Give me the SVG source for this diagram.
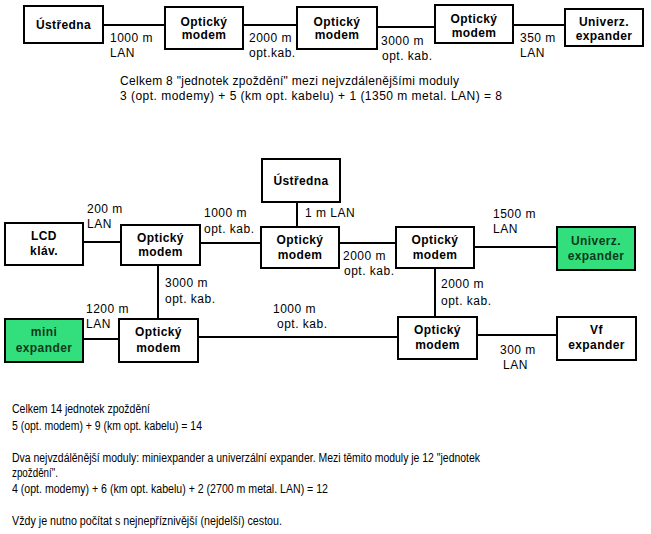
<svg xmlns="http://www.w3.org/2000/svg" width="651" height="534" viewBox="0 0 651 534">
<style>
.box{fill:#fff;stroke:#000;stroke-width:2}
.green{fill:#33df7c;stroke:#000;stroke-width:2}
.bt{font-family:"Liberation Sans",Arial,sans-serif;font-size:12px;font-weight:bold;fill:#000;text-anchor:middle;letter-spacing:0.4px}
.gt{fill:#0f3a1c}
.lbl{font-family:"Liberation Sans",Arial,sans-serif;font-size:12px;fill:#000;letter-spacing:0.5px}
.txt{font-family:"Liberation Sans",Arial,sans-serif;font-size:12px;fill:#000}
.ln{stroke:#000;stroke-width:2;fill:none}
</style>
<rect width="651" height="534" fill="#fff"/>
<g id="connectors">
<line class="ln" x1="103" y1="25" x2="165" y2="25"/>
<line class="ln" x1="243" y1="25" x2="297" y2="25"/>
<line class="ln" x1="377" y1="27" x2="435" y2="27"/>
<line class="ln" x1="513" y1="25" x2="565" y2="25"/>
<line class="ln" x1="297" y1="202" x2="297" y2="227"/>
<line class="ln" x1="83" y1="242" x2="121" y2="242"/>
<line class="ln" x1="200" y1="243" x2="261" y2="243"/>
<line class="ln" x1="339" y1="243" x2="396" y2="243"/>
<line class="ln" x1="474" y1="247" x2="557" y2="247"/>
<line class="ln" x1="158" y1="265" x2="158" y2="319"/>
<line class="ln" x1="435" y1="268" x2="435" y2="317"/>
<line class="ln" x1="83" y1="339" x2="119" y2="339"/>
<line class="ln" x1="198" y1="337" x2="398" y2="337"/>
<line class="ln" x1="477" y1="335" x2="557" y2="335"/>
</g>
<g id="labels">
<text class="lbl" x="110" y="42">1000 m</text>
<text class="lbl" x="110" y="57">LAN</text>
<text class="lbl" x="249" y="42">2000 m</text>
<text class="lbl" x="249" y="57">opt.kab.</text>
<text class="lbl" x="381" y="45">3000 m</text>
<text class="lbl" x="382" y="60">opt. kab.</text>
<text class="lbl" x="520" y="42">350 m</text>
<text class="lbl" x="520" y="57">LAN</text>
<text class="lbl" x="305" y="217">1 m LAN</text>
<text class="lbl" x="87" y="213">200 m</text>
<text class="lbl" x="87" y="228">LAN</text>
<text class="lbl" x="204" y="217">1000 m</text>
<text class="lbl" x="204" y="233">opt. kab.</text>
<text class="lbl" x="343" y="260">2000 m</text>
<text class="lbl" x="344" y="275">opt. kab.</text>
<text class="lbl" x="493" y="218">1500 m</text>
<text class="lbl" x="493" y="233">LAN</text>
<text class="lbl" x="165" y="287">3000 m</text>
<text class="lbl" x="165" y="303">opt. kab.</text>
<text class="lbl" x="441" y="288">2000 m</text>
<text class="lbl" x="441" y="305">opt. kab.</text>
<text class="lbl" x="86" y="313">1200 m</text>
<text class="lbl" x="86" y="328">LAN</text>
<text class="lbl" x="273" y="313">1000 m</text>
<text class="lbl" x="277" y="328">opt. kab.</text>
<text class="lbl" x="500" y="354">300 m</text>
<text class="lbl" x="503" y="369">LAN</text>
</g>
<g id="top-ustredna"><rect class="box" x="24" y="6" width="79" height="37"/><text class="bt" x="63.5" y="29">Ústředna</text></g>
<g id="top-modem1"><rect class="box" x="165" y="7" width="78" height="42"/><text class="bt" x="204" y="26">Optický</text><text class="bt" x="204" y="39">modem</text></g>
<g id="top-modem2"><rect class="box" x="297" y="7" width="80" height="42"/><text class="bt" x="337" y="26">Optický</text><text class="bt" x="337" y="39">modem</text></g>
<g id="top-modem3"><rect class="box" x="435" y="5" width="78" height="38"/><text class="bt" x="474" y="23">Optický</text><text class="bt" x="474" y="37">modem</text></g>
<g id="top-univerz"><rect class="box" x="565" y="9" width="78" height="37"/><text class="bt" x="604" y="26">Univerz.</text><text class="bt" x="604" y="40">expander</text></g>
<g id="top-text">
<text class="txt" x="120" y="85" textLength="339">Celkem 8 "jednotek zpoždění" mezi nejvzdálenějšími moduly</text>
<text class="txt" x="120" y="100" textLength="382">3 (opt. modemy) + 5 (km opt. kabelu) + 1 (1350 m metal. LAN) = 8</text>
</g>
<g id="ustredna"><rect class="box" x="262" y="159" width="78" height="43"/><text class="bt" x="301" y="185">Ústředna</text></g>
<g id="lcd"><rect class="box" x="5" y="223" width="78" height="42"/><text class="bt" x="44" y="240">LCD</text><text class="bt" x="44" y="255">kláv.</text></g>
<g id="modem-a"><rect class="box" x="121" y="225" width="79" height="40"/><text class="bt" x="160.5" y="242">Optický</text><text class="bt" x="160.5" y="256">modem</text></g>
<g id="modem-b"><rect class="box" x="261" y="227" width="78" height="41"/><text class="bt" x="300" y="244">Optický</text><text class="bt" x="300" y="259">modem</text></g>
<g id="modem-c"><rect class="box" x="396" y="227" width="78" height="41"/><text class="bt" x="435" y="244">Optický</text><text class="bt" x="435" y="259">modem</text></g>
<g id="univerz"><rect class="green" x="557" y="227" width="78" height="43"/><text class="bt gt" x="596" y="245">Univerz.</text><text class="bt gt" x="596" y="260">expander</text></g>
<g id="mini"><rect class="green" x="5" y="319" width="78" height="43"/><text class="bt gt" x="44" y="336">mini</text><text class="bt gt" x="44" y="352">expander</text></g>
<g id="modem-d"><rect class="box" x="119" y="319" width="79" height="43"/><text class="bt" x="158.5" y="336">Optický</text><text class="bt" x="158.5" y="352">modem</text></g>
<g id="modem-e"><rect class="box" x="398" y="317" width="79" height="42"/><text class="bt" x="437.5" y="334">Optický</text><text class="bt" x="437.5" y="349">modem</text></g>
<g id="vf"><rect class="box" x="557" y="317" width="79" height="43"/><text class="bt" x="596.5" y="334">Vf</text><text class="bt" x="596.5" y="349">expander</text></g>
<g id="bottom-text">
<text class="txt" x="12" y="413" textLength="138" lengthAdjust="spacingAndGlyphs">Celkem 14 jednotek zpoždění</text>
<text class="txt" x="12" y="430" textLength="190" lengthAdjust="spacingAndGlyphs">5 (opt. modem) + 9 (km opt. kabelu) = 14</text>
<text class="txt" x="12" y="462" textLength="468" lengthAdjust="spacingAndGlyphs">Dva nejvzdálěnější moduly: miniexpander a univerzální expander. Mezi těmito moduly je 12 "jednotek</text>
<text class="txt" x="12" y="477" textLength="46" lengthAdjust="spacingAndGlyphs">zpoždění".</text>
<text class="txt" x="12" y="493" textLength="316" lengthAdjust="spacingAndGlyphs">4 (opt. modemy) + 6 (km opt. kabelu) + 2 (2700 m metal. LAN) = 12</text>
<text class="txt" x="12" y="525" textLength="270" lengthAdjust="spacingAndGlyphs">Vždy je nutno počítat s nejnepříznivější (nejdelší) cestou.</text>
</g>
</svg>
